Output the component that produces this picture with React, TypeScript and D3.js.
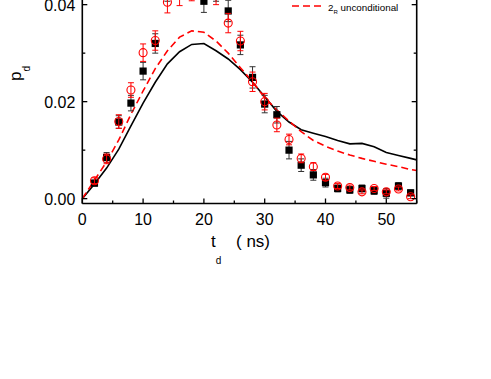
import React from "react";
import * as d3 from "d3";

const tPoints = [2,4,6,8,10,12,14,16,18,20,22,24,26,28,30,32,34,36,38,40,42,44,46,48,50,52,54];
const squareVals = [0.0032,0.0085,0.0158,0.0197,0.0263,0.0320,0.0430,0.0435,0.0440,0.0407,0.0430,0.0387,0.0317,0.0250,0.0195,0.0173,0.0100,0.0069,0.0049,0.0033,0.0021,0.0018,0.0021,0.0016,0.0011,0.0026,0.0012];
const squareErr = [0.0006,0.0010,0.0013,0.0016,0.0018,0.0020,0.0023,0.0023,0.0023,0.0023,0.0023,0.0022,0.0020,0.0022,0.0018,0.0017,0.0018,0.0013,0.0011,0.0009,0.0007,0.0007,0.0007,0.0007,0.0010,0.0007,0.0006];
const circleVals = [0.0037,0.0082,0.0159,0.0224,0.0301,0.0326,0.0405,0.0420,0.0430,0.0440,0.0422,0.0362,0.0325,0.0241,0.0200,0.0152,0.0122,0.0083,0.0066,0.0044,0.0026,0.0023,0.0014,0.0021,0.0014,0.0020,0.0004];
const circleErr = [0.0006,0.0010,0.0014,0.0015,0.0018,0.0020,0.0022,0.0022,0.0022,0.0023,0.0022,0.0020,0.0020,0.0020,0.0017,0.0014,0.0011,0.0009,0.0008,0.0006,0.0005,0.0005,0.0004,0.0004,0.0004,0.0004,0.0004];

const tLine = [0,2,4,6,8,10,12,14,16,18,20,22,24,26,28,30,32,34,36,38,40,42,44,46,48,50,52,54,55];
const solidVals = [0,0.0030,0.0063,0.0102,0.0150,0.0197,0.0240,0.0278,0.0303,0.0318,0.0320,0.0305,0.0288,0.0266,0.0240,0.0210,0.0180,0.0158,0.0142,0.0135,0.0128,0.0120,0.0113,0.0114,0.0107,0.0095,0.0089,0.0083,0.0080];
const dashedVals = [0,0.0038,0.0076,0.0121,0.0174,0.0222,0.0268,0.0305,0.0333,0.0346,0.0343,0.0325,0.0300,0.0270,0.0241,0.0208,0.0183,0.0160,0.0138,0.0120,0.0108,0.0098,0.0090,0.0083,0.0077,0.0071,0.0066,0.0060,0.0058];

const xMajor = [0,10,20,30,40,50];
const xMinor = [5,15,25,35,45,55];
const yMajor = [0, 0.02, 0.04];
const yMinor = [0.01, 0.03];

const FONT = "'Liberation Sans', Arial, sans-serif";

export default function App() {
  const left = 82.3, right = 416.7, bottom = 203.5;
  const x = d3.scaleLinear().domain([0, 55]).range([left, right]);
  const y = d3.scaleLinear().domain([-0.001, 0.05]).range([bottom, bottom - 0.051 * 4850]);
  const top = y(0.05);

  const solid = d3.line<number>().x((_, i) => x(tLine[i])).y((d) => y(d))(solidVals) || "";
  const dashed = d3.line<number>().x((_, i) => x(tLine[i])).y((d) => y(d))(dashedVals) || "";

  const errBar = (t: number, v: number, e: number, color: string, key: string) => {
    const cx = x(t);
    const y1 = y(v - e), y2 = y(v + e);
    return (
      <g key={key} stroke={color} strokeWidth={1}>
        <line x1={cx} x2={cx} y1={y1} y2={y2} />
        <line x1={cx - 3} x2={cx + 3} y1={y1} y2={y1} />
        <line x1={cx - 3} x2={cx + 3} y1={y2} y2={y2} />
      </g>
    );
  };

  return (
    <svg width={491} height={379} style={{ position: "absolute", left: 0, top: 0, background: "#fff" }} fontFamily={FONT}>
      <rect x={0} y={0} width={491} height={379} fill="#fff" />
      <path d={solid} fill="none" stroke="#000" strokeWidth={1.6} />
      <path d={dashed} fill="none" stroke="#ff0000" strokeWidth={1.6} strokeDasharray="7,4" />
      {tPoints.map((t, i) => errBar(t, squareVals[i], squareErr[i], "#333", "se" + i))}
      {tPoints.map((t, i) => (
        <rect key={"s" + i} x={x(t) - 3.6} y={y(squareVals[i]) - 3.6} width={7.2} height={7.2} fill="#000" />
      ))}
      {tPoints.map((t, i) => errBar(t, circleVals[i], circleErr[i], "#ff0000", "ce" + i))}
      {tPoints.map((t, i) => (
        <circle key={"c" + i} cx={x(t)} cy={y(circleVals[i])} r={4} fill="none" stroke="#ff0000" strokeWidth={1.1} />
      ))}
      <g stroke="#000" strokeWidth={1.6} fill="none">
        <line x1={left} x2={right} y1={bottom} y2={bottom} />
        <line x1={left} x2={left} y1={bottom} y2={top} />
        <line x1={right} x2={right} y1={bottom} y2={top} />
      </g>
      <g stroke="#000" strokeWidth={1.3}>
        {xMajor.map((v) => (
          <line key={"xm" + v} x1={x(v)} x2={x(v)} y1={bottom} y2={bottom - 5} />
        ))}
        {xMinor.map((v) => (
          <line key={"xn" + v} x1={x(v)} x2={x(v)} y1={bottom} y2={bottom - 3} />
        ))}
        {yMajor.map((v) => (
          <g key={"ym" + v}>
            <line x1={left} x2={left + 5} y1={y(v)} y2={y(v)} />
            <line x1={right} x2={right - 5} y1={y(v)} y2={y(v)} />
          </g>
        ))}
        {yMinor.map((v) => (
          <g key={"yn" + v}>
            <line x1={left} x2={left + 3} y1={y(v)} y2={y(v)} />
            <line x1={right} x2={right - 3} y1={y(v)} y2={y(v)} />
          </g>
        ))}
      </g>
      <g fontSize={16} fill="#000">
        {xMajor.map((v) => (
          <text key={"xl" + v} x={x(v)} y={bottom + 21} textAnchor="middle">{v}</text>
        ))}
        {yMajor.map((v) => (
          <text key={"yl" + v} x={left - 7} y={y(v) + 6} textAnchor="end">{v.toFixed(2)}</text>
        ))}
      </g>
      <text x={211} y={247} fontSize={17} fill="#000">
        t<tspan fontSize={10} dy={17}>d</tspan>
        <tspan x={236} dy={-17}>( ns)</tspan>
      </text>
      <text transform="translate(21,81) rotate(-90)" fontSize={17} fill="#000">
        p<tspan fontSize={10} dy={9}>d</tspan>
      </text>
      <line x1={292} x2={323} y1={6} y2={6} stroke="#ff0000" strokeWidth={1.6} strokeDasharray="7,4" />
      <text x={328} y={10.5} fontSize={9.8} fill="#000">
        2<tspan fontSize={6} dy={3}>R</tspan>
        <tspan dy={-3}> unconditional</tspan>
      </text>
    </svg>
  );
}
